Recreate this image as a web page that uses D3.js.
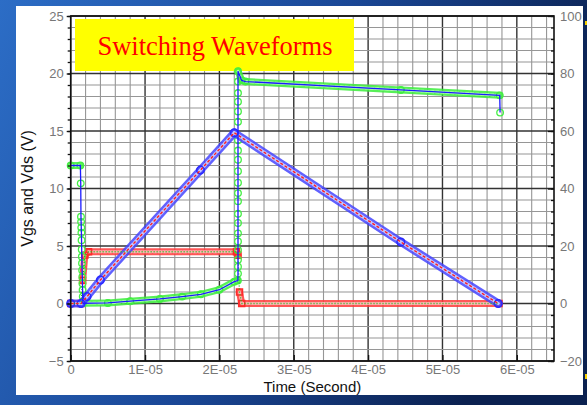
<!DOCTYPE html>
<html>
<head>
<meta charset="utf-8">
<script src="https://cdn.jsdelivr.net/npm/d3@7"></script>
<style>
  body { margin: 0; background: #1a3f8e; }
  svg { display: block; }
</style>
</head>
<body>
<div id="chart"></div>
<script>
var xTicks = [0, 1e-5, 2e-5, 3e-5, 4e-5, 5e-5, 6e-5];
var xTickLabels = ['0', '1E-05', '2E-05', '3E-05', '4E-05', '5E-05', '6E-05'];
var leftTicks = [-5, 0, 5, 10, 15, 20, 25];
var rightTicks = [-20, 0, 20, 40, 60, 80, 100];

// drain voltage, left axis (green rings + blue line)
var vdsTime = [0, 1.3e-6, 1.35e-6, 1.38e-6, 1.4e-6, 1.42e-6, 1.44e-6, 1.46e-6, 1.48e-6, 1.5e-6, 1.52e-6, 1.54e-6, 1.56e-6, 1.58e-6, 1.6e-6, 1.62e-6, 1.65e-6,
  5e-6, 8e-6, 1.2e-5, 1.5e-5, 1.75e-5, 2.0e-5, 2.2e-5, 2.248e-5,
  2.25e-5, 2.25e-5, 2.25e-5, 2.25e-5, 2.25e-5, 2.25e-5, 2.25e-5, 2.25e-5, 2.25e-5, 2.25e-5, 2.25e-5, 2.25e-5, 2.25e-5, 2.25e-5, 2.25e-5, 2.25e-5, 2.25e-5, 2.25e-5, 2.25e-5, 2.25e-5, 2.25e-5,
  2.3e-5, 2.35e-5, 4.44e-5, 5.77e-5, 5.775e-5];
var vdsVolt = [12, 12, 10.45, 7.55, 7.1, 6.6, 6.15, 5.5, 4.7, 4.07, 3.5, 2.9, 2.3, 1.75, 1.17, 0.6, 0.02,
  0.05, 0.2, 0.4, 0.6, 0.8, 1.2, 1.9, 2.0,
  2.6, 3.2, 3.8, 4.65, 5.4, 6.1, 7.0, 7.8, 8.9, 9.6, 10.5, 11.5, 12.5, 13.3, 14.2, 15.8, 16.7, 17.55, 18.3, 19.3, 20.2,
  19.4, 19.3, 18.57, 18.1, 16.6];

// drain current, right axis (blue rings + red dashes)
var idTime = [0, 1.4e-6, 2.2e-6, 4e-6, 1.745e-5, 2.2e-5, 4.44e-5, 5.75e-5];
var idAmp = [0, 0, 2.4, 8.2, 46.4, 59.4, 21.4, 0];

// gate voltage, left axis (red squares + green dots)
var vgsTime = [0, 1.4e-6, 1.6e-6, 1.9e-6, 2.4e-6, 2.23e-5, 2.25e-5, 2.27e-5, 2.3e-5, 5.76e-5];
var vgsVolt = [0, 0, 2, 4.2, 4.5, 4.5, 4.2, 1.0, 0, 0];

var width = 587;
var height = 405;
var plot = { left: 70.7, right: 554, top: 16, bottom: 361 };

var svg = d3.select('#chart').append('svg')
  .attr('width', width)
  .attr('height', height);

var grad = svg.append('defs').append('linearGradient')
  .attr('id', 'bg')
  .attr('x1', '0%').attr('y1', '0%')
  .attr('x2', '100%').attr('y2', '30%');
grad.append('stop').attr('offset', '0%').attr('stop-color', '#2c6dc6');
grad.append('stop').attr('offset', '55%').attr('stop-color', '#1a4796');
grad.append('stop').attr('offset', '100%').attr('stop-color', '#0b2150');

svg.append('rect').attr('width', width).attr('height', height).attr('fill', 'url(#bg)');
svg.append('rect').attr('x', 16).attr('y', 6).attr('width', 567).attr('height', 389).attr('fill', '#fff');
svg.append('rect').attr('x', 585).attr('y', 21).attr('width', 2).attr('height', 4).attr('fill', '#f5d000');
svg.append('rect').attr('x', 585).attr('y', 374).attr('width', 2).attr('height', 5).attr('fill', '#f5d000');

var x = d3.scaleLinear().domain([0, 6.5e-5]).range([plot.left, plot.right]);
var yLeft = d3.scaleLinear().domain([-5, 25]).range([plot.bottom, plot.top]);
var yRight = d3.scaleLinear().domain([-20, 100]).range([plot.bottom, plot.top]);

// grid
var gridX = d3.range(0, 33).map(i => i * 2e-6);
var gridY = d3.range(-5, 26);

svg.append('g').selectAll('line').data(gridX).enter().append('line')
  .attr('x1', d => x(d)).attr('x2', d => x(d))
  .attr('y1', plot.top).attr('y2', plot.bottom)
  .attr('stroke', (d, i) => i % 5 === 0 ? '#333' : '#969696')
  .attr('stroke-width', (d, i) => i % 5 === 0 ? 1.4 : 1.1);

svg.append('g').selectAll('line').data(gridY).enter().append('line')
  .attr('x1', plot.left).attr('x2', plot.right)
  .attr('y1', d => yLeft(d)).attr('y2', d => yLeft(d))
  .attr('stroke', d => d % 5 === 0 ? '#333' : '#969696')
  .attr('stroke-width', d => d % 5 === 0 ? 1.4 : 1.1);

// title box
svg.append('rect')
  .attr('x', 75).attr('y', 19).attr('width', 279).attr('height', 52)
  .attr('fill', '#ffff00');
svg.append('text')
  .text('Switching Waveforms')
  .attr('x', 215).attr('y', 55)
  .attr('text-anchor', 'middle')
  .attr('font-family', '"Liberation Serif", "Times New Roman", serif')
  .attr('font-size', 26.5)
  .attr('fill', '#ff0000');

// series helpers
function pts(times, vals, scale) {
  return times.map((t, i) => [x(t), scale(vals[i])]);
}

function denseSegments(times, p) {
  var segs = [];
  for (var i = 1; i < p.length; i++) {
    if (times[i] - times[i - 1] > 2e-7) segs.push([p[i - 1], p[i]]);
  }
  return segs;
}

function band(times, p, color, light, w) {
  var g = svg.append('g');
  var segs = denseSegments(times, p);
  g.selectAll('line.outer').data(segs).enter().append('line')
    .attr('x1', d => d[0][0]).attr('y1', d => d[0][1])
    .attr('x2', d => d[1][0]).attr('y2', d => d[1][1])
    .attr('stroke', color).attr('stroke-width', w)
    .attr('stroke-linecap', 'round').attr('opacity', 0.85);
  g.selectAll('line.inner').data(segs).enter().append('line')
    .attr('x1', d => d[0][0]).attr('y1', d => d[0][1])
    .attr('x2', d => d[1][0]).attr('y2', d => d[1][1])
    .attr('stroke', light).attr('stroke-width', w * 0.4)
    .attr('stroke-dasharray', '3 2')
    .attr('stroke-linecap', 'round');
}

var line = d3.line();

var vdsPts = pts(vdsTime, vdsVolt, yLeft);
var idPts = pts(idTime, idAmp, yRight);
var vgsPts = pts(vgsTime, vgsVolt, yLeft);

// gate voltage band + squares
band(vgsTime, vgsPts, '#ff3a3a', '#ffb0b0', 7);
svg.append('g').selectAll('rect').data(vgsPts).enter().append('rect')
  .attr('x', d => d[0] - 3).attr('y', d => d[1] - 3)
  .attr('width', 6).attr('height', 6)
  .attr('fill', 'none').attr('stroke', '#ff2a2a').attr('stroke-width', 1.5);

// drain voltage band + circles
band(vdsTime, vdsPts, '#3cee3c', '#b8ffb8', 7);
svg.append('g').selectAll('circle').data(vdsPts).enter().append('circle')
  .attr('cx', d => d[0]).attr('cy', d => d[1]).attr('r', 3.3)
  .attr('fill', 'none').attr('stroke', '#44ee44').attr('stroke-width', 1.3);

// drain current band + circles
band(idTime, idPts, '#4646ff', '#c4c4ff', 8);
svg.append('g').selectAll('circle').data(idPts).enter().append('circle')
  .attr('cx', d => d[0]).attr('cy', d => d[1]).attr('r', 3.8)
  .attr('fill', 'none').attr('stroke', '#2a2aff').attr('stroke-width', 1.5);

// inner lines
svg.append('path').attr('d', line(vgsPts))
  .attr('fill', 'none').attr('stroke', '#1fbf1f').attr('stroke-width', 1.3)
  .attr('stroke-dasharray', '1 2');
svg.append('path').attr('d', line(idPts))
  .attr('fill', 'none').attr('stroke', '#ff2020').attr('stroke-width', 1.4)
  .attr('stroke-dasharray', '3 2');
svg.append('path').attr('d', line(vdsPts))
  .attr('fill', 'none').attr('stroke', '#1a1aff').attr('stroke-width', 1.3);

// frame
svg.append('rect')
  .attr('x', plot.left).attr('y', plot.top)
  .attr('width', plot.right - plot.left).attr('height', plot.bottom - plot.top)
  .attr('fill', 'none').attr('stroke', '#111').attr('stroke-width', 1.6);

// axes
var tickFont = '"Liberation Sans", Arial, sans-serif';

var leftAxis = d3.axisLeft(yLeft).tickValues(leftTicks).tickSize(4).tickPadding(3);
var bottomAxis = d3.axisBottom(x).tickValues(xTicks).tickSize(-6).tickPadding(4)
  .tickFormat((d, i) => xTickLabels[i]);
var rightAxis = d3.axisRight(yRight).tickValues(rightTicks).tickSize(-6).tickPadding(6);
var leftMinor = d3.axisLeft(yLeft).tickValues(gridY).tickSize(3).tickFormat('');
var rightMinor = d3.axisRight(yRight).tickValues(d3.range(-20, 101, 4)).tickSize(-3).tickFormat('');

svg.append('g').attr('class', 'axis').attr('transform', `translate(${plot.left},0)`).call(leftMinor);
svg.append('g').attr('class', 'axis').attr('transform', `translate(${plot.right},0)`).call(rightMinor);
svg.append('g').attr('class', 'axis').attr('transform', `translate(${plot.left},0)`).call(leftAxis);
svg.append('g').attr('class', 'axis').attr('transform', `translate(0,${plot.bottom})`).call(bottomAxis);
svg.append('g').attr('class', 'axis').attr('transform', `translate(${plot.right},0)`).call(rightAxis);

svg.selectAll('.axis .domain').remove();
svg.selectAll('.axis line').attr('stroke', '#111').attr('stroke-width', 1.3);
svg.selectAll('.axis text')
  .attr('fill', '#777')
  .attr('font-family', tickFont)
  .attr('font-size', 13);

// axis titles
svg.append('text')
  .text('Time (Second)')
  .attr('x', (plot.left + plot.right) / 2)
  .attr('y', 392)
  .attr('text-anchor', 'middle')
  .attr('font-family', tickFont)
  .attr('font-size', 15)
  .attr('fill', '#111');

svg.append('text')
  .text('Vgs and Vds (V)')
  .attr('transform', `translate(33,${(plot.top + plot.bottom) / 2})rotate(-90)`)
  .attr('text-anchor', 'middle')
  .attr('font-family', tickFont)
  .attr('font-size', 16)
  .attr('fill', '#111');
</script>
</body>
</html>
